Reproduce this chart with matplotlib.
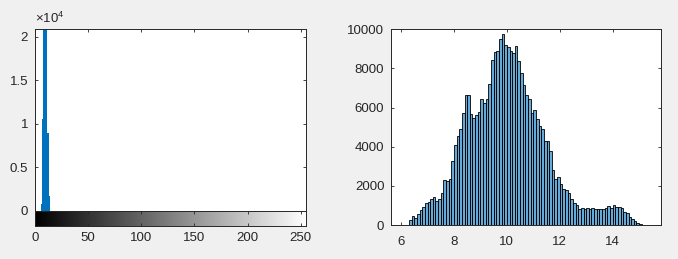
import numpy as np
import matplotlib
matplotlib.use("Agg")
import matplotlib.pyplot as plt

plt.rcParams['font.family'] = ['Liberation Sans', 'DejaVu Sans']
plt.rcParams['font.size'] = 9.5
plt.rcParams['mathtext.fontset'] = 'custom'
plt.rcParams['mathtext.rm'] = 'Liberation Sans'
plt.rcParams['mathtext.it'] = 'Liberation Sans:italic'

# left: image histogram (gray levels 0..255), tall bins are clipped by the axes
gray_levels = [6, 7, 8, 9, 10, 11, 12, 13, 14]
gray_counts = [780, 10570, 52000, 84000, 71000, 35000, 8950, 8950, 1740]

# right: histogram of the values, bin width 0.1 starting at 6.3
bin_start = 6.3
bin_width = 0.1
bin_counts = [240, 440, 360, 560, 750, 900, 1120, 1160, 1310, 1450,
              1230, 1330, 1620, 2280, 2250, 2330, 3250, 4070, 4530, 4900,
              5700, 6620, 6620, 5650, 5450, 5600, 5760, 6440, 6220, 6420,
              7200, 8430, 8820, 8910, 9490, 9740, 9200, 9110, 8870, 8770,
              9150, 8360, 7780, 7140, 6620, 6420, 5700, 5880, 5430, 5060,
              4890, 4290, 4290, 3760, 2810, 2330, 2440, 2100, 1850, 1790,
              1620, 1330, 1140, 1020, 830, 850, 830, 850, 820, 850,
              830, 820, 820, 820, 850, 970, 850, 1000, 900, 900,
              870, 650, 600, 430, 310, 190, 85, 35]

txt = '#262626'
W, H = 678, 259

fig = plt.figure(figsize=(W / 100, H / 100), dpi=100, facecolor='#F0F0F0')

def style(ax):
    for s in ax.spines.values():
        s.set_color(txt)
        s.set_linewidth(0.7)
    ax.tick_params(direction='in', length=2.3, width=0.6, color=txt,
                   labelcolor=txt, top=True, right=True)

# --- left: imhist ---
ax1 = fig.add_axes([35 / W, 1 - 210.7 / H, 271 / W, (210.7 - 29) / H])
ax1.bar(gray_levels, gray_counts, width=1.0, color='#0072BD', linewidth=0)
ax1.set_xlim(0, 255)
ax1.set_ylim(0, 20900)
ax1.set_xticks(range(0, 251, 50))
ax1.set_yticks([0, 5000, 10000, 15000, 20000])
ax1.set_yticklabels(['0', '0.5', '1', '1.5', '2'])
style(ax1)
ax1.tick_params(labelbottom=False, bottom=False, pad=5)
ax1.text(0, 1.015, r'$\times\mathrm{10^{4}}$', transform=ax1.transAxes,
         ha='left', va='bottom', color=txt, fontsize=9.5)

# gray colorbar under the histogram
axc = fig.add_axes([35 / W, 1 - 225.7 / H, 271 / W, 15 / H])
axc.imshow(np.arange(256).reshape(1, -1), cmap='gray', vmin=0, vmax=255,
           aspect='auto', extent=[-0.5, 255.5, 0, 1], interpolation='bilinear')
axc.set_xlim(0, 255)
axc.set_ylim(0, 1)
axc.set_yticks([])
axc.set_xticks(range(0, 251, 50))
style(axc)
axc.tick_params(right=False, pad=4.3)

# --- right: histogram ---
ax2 = fig.add_axes([391.3 / W, 1 - 225 / H, 270 / W, (225 - 29.3) / H])
edges = bin_start + bin_width * np.arange(len(bin_counts))
ax2.bar(edges, bin_counts, width=bin_width, align='edge',
        facecolor=(0, 0.447, 0.741, 0.6), edgecolor='black', linewidth=0.6)
ax2.set_xlim(5.63, 15.84)
ax2.set_ylim(0, 10000)
ax2.set_xticks([6, 8, 10, 12, 14])
ax2.set_yticks(range(0, 10001, 2000))
style(ax2)
ax2.tick_params(axis='y', pad=5)
ax2.tick_params(axis='x', pad=8)

fig.savefig('out.png', dpi=100, facecolor=fig.get_facecolor())
